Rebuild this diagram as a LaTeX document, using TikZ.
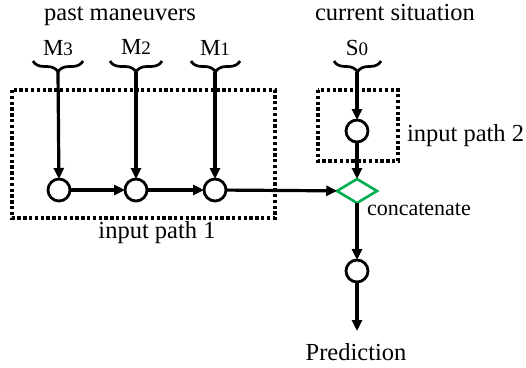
\documentclass[tikz,border=0pt]{standalone}
\usepackage{fontspec}
\setmainfont{Liberation Serif}
\usetikzlibrary{arrows.meta,decorations.pathreplacing,shapes.geometric}

\begin{document}
\begin{tikzpicture}[x=1pt,y=-1pt,
  every node/.style={inner sep=0pt, outer sep=0pt},
  lbl/.style={font=\fontsize{24.5}{28}\selectfont},
  small/.style={font=\fontsize{22}{26}\selectfont},
  symb/.style={font=\fontsize{23}{26}\selectfont},
  unit/.style={circle, draw, line width=2.8pt, minimum size=22pt, fill=white},
  merge/.style={diamond, draw=concatgreen, line width=2.6pt, minimum width=40pt, minimum height=24pt, fill=white},
  flow/.style={line width=3.2pt, -{Triangle[length=11pt,width=10pt]}},
  group/.style={draw, line width=3.4pt, dash pattern=on 3.3pt off 2.5pt},
  curly/.style={decorate, decoration={brace, amplitude=11pt, mirror}, line width=2.7pt}
]
\definecolor{concatgreen}{RGB}{0,176,80}
\useasboundingbox (0,0) rectangle (526,367);

% headings
\node[lbl, anchor=base] (past) at (120,20) {past maneuvers};
\node[lbl, anchor=base] (cur) at (395,20) {current situation};

% input symbols
\newcommand{\sym}[2]{#1{\fontsize{19}{22}\selectfont #2}}
\node[symb, anchor=base] (m3) at (58,55) {\sym{M}{3}};
\node[symb, anchor=base] (m2) at (136,54) {\sym{M}{2}};
\node[symb, anchor=base] (m1) at (215,55) {\sym{M}{1}};
\node[symb, anchor=base] (s0) at (357,55) {\sym{S}{0}};

% braces under the symbols
\draw[curly] (33,61) -- (83,61);
\draw[curly] (110,61) -- (162,61);
\draw[curly] (191,61) -- (240,61);
\draw[curly] (334,61) -- (381,61);
\coordinate (t3) at (58,72);
\coordinate (t2) at (136,72);
\coordinate (t1) at (215,72);
\coordinate (t0) at (357,72);

% dotted groups
\draw[group] (12,90) rectangle (275,218);
\draw[group] (318,90) rectangle (398,161);
\node[lbl] (ip1) at (157,233) {input path 1};
\node[lbl, anchor=west] (ip2) at (407,136) {input path 2};

% units
\node[unit] (c3) at (59,190) {};
\node[unit] (c2) at (136,190) {};
\node[unit] (c1) at (215,190) {};
\node[unit] (cs) at (357,131) {};
\node[merge] (cat) at (357,191) {};
\node[small, anchor=west] (catl) at (367,209) {concatenate};
\node[unit] (co) at (357,271) {};
\node[lbl] (pred) at (356,352) {Prediction};
\coordinate (pend) at (357,331);

% connectors
\draw[flow] (t3) -- (c3);
\draw[flow] (t2) -- (c2);
\draw[flow] (t1) -- (c1);
\draw[flow] (t0) -- (cs);
\draw[flow] (c3) -- (c2);
\draw[flow] (c2) -- (c1);
\draw[flow] (c1) -- (cat);
\draw[flow] (cs) -- (cat);
\draw[flow] (cat) -- (co);
\draw[flow] (co) -- (pend);
\end{tikzpicture}
\end{document}
